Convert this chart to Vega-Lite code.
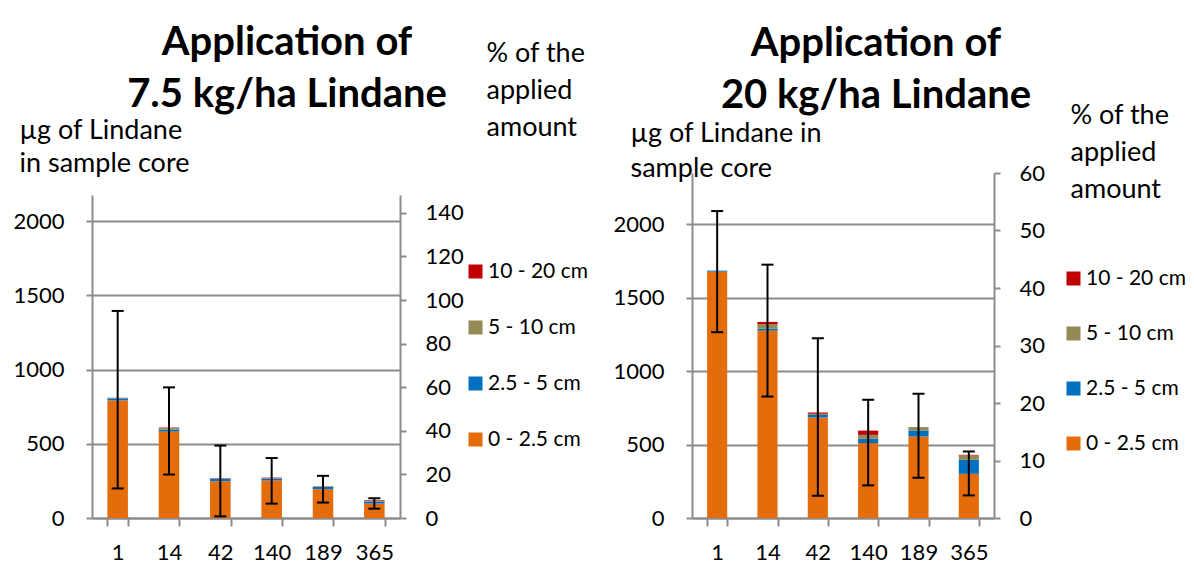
{
  "$schema": "https://vega.github.io/schema/vega-lite/v6.json",
  "autosize": {"type": "pad"},
  "padding": {"left": 12, "top": 23, "right": 0, "bottom": 0},
  "background": "white",
  "bounds": "flush",
  "spacing": 292,
  "datasets": {
    "leftBars": [
      {"day": 1, "depth": "0 - 2.5 cm", "ord": 1, "value": 792},
      {"day": 1, "depth": "2.5 - 5 cm", "ord": 2, "value": 14},
      {"day": 1, "depth": "5 - 10 cm", "ord": 3, "value": 3},
      {"day": 1, "depth": "10 - 20 cm", "ord": 4, "value": 1},
      {"day": 14, "depth": "0 - 2.5 cm", "ord": 1, "value": 582},
      {"day": 14, "depth": "2.5 - 5 cm", "ord": 2, "value": 13},
      {"day": 14, "depth": "5 - 10 cm", "ord": 3, "value": 13},
      {"day": 14, "depth": "10 - 20 cm", "ord": 4, "value": 2},
      {"day": 42, "depth": "0 - 2.5 cm", "ord": 1, "value": 248},
      {"day": 42, "depth": "2.5 - 5 cm", "ord": 2, "value": 16},
      {"day": 42, "depth": "5 - 10 cm", "ord": 3, "value": 3},
      {"day": 42, "depth": "10 - 20 cm", "ord": 4, "value": 3},
      {"day": 140, "depth": "0 - 2.5 cm", "ord": 1, "value": 253},
      {"day": 140, "depth": "2.5 - 5 cm", "ord": 2, "value": 12},
      {"day": 140, "depth": "5 - 10 cm", "ord": 3, "value": 3},
      {"day": 140, "depth": "10 - 20 cm", "ord": 4, "value": 4},
      {"day": 189, "depth": "0 - 2.5 cm", "ord": 1, "value": 194},
      {"day": 189, "depth": "2.5 - 5 cm", "ord": 2, "value": 15},
      {"day": 189, "depth": "5 - 10 cm", "ord": 3, "value": 4},
      {"day": 189, "depth": "10 - 20 cm", "ord": 4, "value": 1},
      {"day": 365, "depth": "0 - 2.5 cm", "ord": 1, "value": 97},
      {"day": 365, "depth": "2.5 - 5 cm", "ord": 2, "value": 14},
      {"day": 365, "depth": "5 - 10 cm", "ord": 3, "value": 3},
      {"day": 365, "depth": "10 - 20 cm", "ord": 4, "value": 5}
    ],
    "rightBars": [
      {"day": 1, "depth": "0 - 2.5 cm", "ord": 1, "value": 1677},
      {"day": 1, "depth": "2.5 - 5 cm", "ord": 2, "value": 7},
      {"day": 1, "depth": "5 - 10 cm", "ord": 3, "value": 1},
      {"day": 1, "depth": "10 - 20 cm", "ord": 4, "value": 0},
      {"day": 14, "depth": "0 - 2.5 cm", "ord": 1, "value": 1276},
      {"day": 14, "depth": "2.5 - 5 cm", "ord": 2, "value": 13},
      {"day": 14, "depth": "5 - 10 cm", "ord": 3, "value": 32},
      {"day": 14, "depth": "10 - 20 cm", "ord": 4, "value": 14},
      {"day": 42, "depth": "0 - 2.5 cm", "ord": 1, "value": 684},
      {"day": 42, "depth": "2.5 - 5 cm", "ord": 2, "value": 18},
      {"day": 42, "depth": "5 - 10 cm", "ord": 3, "value": 8},
      {"day": 42, "depth": "10 - 20 cm", "ord": 4, "value": 8},
      {"day": 140, "depth": "0 - 2.5 cm", "ord": 1, "value": 510},
      {"day": 140, "depth": "2.5 - 5 cm", "ord": 2, "value": 29},
      {"day": 140, "depth": "5 - 10 cm", "ord": 3, "value": 27},
      {"day": 140, "depth": "10 - 20 cm", "ord": 4, "value": 29},
      {"day": 189, "depth": "0 - 2.5 cm", "ord": 1, "value": 555},
      {"day": 189, "depth": "2.5 - 5 cm", "ord": 2, "value": 41},
      {"day": 189, "depth": "5 - 10 cm", "ord": 3, "value": 23},
      {"day": 189, "depth": "10 - 20 cm", "ord": 4, "value": 0},
      {"day": 365, "depth": "0 - 2.5 cm", "ord": 1, "value": 301},
      {"day": 365, "depth": "2.5 - 5 cm", "ord": 2, "value": 95},
      {"day": 365, "depth": "5 - 10 cm", "ord": 3, "value": 30},
      {"day": 365, "depth": "10 - 20 cm", "ord": 4, "value": 4}
    ],
    "leftErr": [
      {"day": 1, "lo": 199, "hi": 1395, "pct": 55},
      {"day": 14, "lo": 293, "hi": 880, "pct": 41},
      {"day": 42, "lo": 11, "hi": 488, "pct": 18},
      {"day": 140, "lo": 97, "hi": 404, "pct": 18},
      {"day": 189, "lo": 104, "hi": 284, "pct": 15},
      {"day": 365, "lo": 63, "hi": 133, "pct": 8}
    ],
    "rightErr": [
      {"day": 1, "lo": 1265, "hi": 2090, "pct": 43},
      {"day": 14, "lo": 827, "hi": 1725, "pct": 34},
      {"day": 42, "lo": 152, "hi": 1224, "pct": 18},
      {"day": 140, "lo": 222, "hi": 805, "pct": 15},
      {"day": 189, "lo": 274, "hi": 846, "pct": 16},
      {"day": 365, "lo": 154, "hi": 453, "pct": 11}
    ]
  },
  "hconcat": [
    {
      "width": 308,
      "height": 345,
      "title": {"text": ["Application of", "7.5 kg/ha Lindane"], "frame": "group", "anchor": "middle", "dx": 41, "dy": 76, "offset": 0, "lineHeight": 52},
      "layer": [
        {
          "layer": [
            {
              "data": {"name": "leftBars"},
              "mark": {"type": "bar"},
              "encoding": {
                "x": {"field": "day", "type": "ordinal", "sort": [1, 14, 42, 140, 189, 365], "scale": {"paddingInner": 0.6, "paddingOuter": 0.3},
                  "axis": {"title": null, "labelAngle": 0, "tickBand": "extent", "tickSize": 8, "labelPadding": 16, "grid": false}},
                "y": {"field": "value", "type": "quantitative", "stack": "zero", "scale": {"domain": [0, 2176], "range": [345, 22], "nice": false, "zero": true},
                  "axis": {"title": ["µg of Lindane", "in sample core"], "values": [0, 500, 1000, 1500, 2000], "format": "d", "grid": true, "tickSize": 6, "labelPadding": 22,
                    "titleAngle": 0, "titleAlign": "left", "titleBaseline": "alphabetic", "titleX": -73, "titleY": -35, "titleLineHeight": 33}},
                "color": {"field": "depth", "type": "nominal",
                  "scale": {"domain": ["10 - 20 cm", "5 - 10 cm", "2.5 - 5 cm", "0 - 2.5 cm"], "range": ["#C00000", "#948A54", "#0070C0", "#E46C0A"]},
                  "legend": {"orient": "none", "legendX": 373, "legendY": 88, "title": null, "rowPadding": 34}},
                "order": {"field": "ord", "type": "quantitative"}
              }
            },
            {
              "data": {"name": "leftErr"},
              "mark": {"type": "rule", "color": "black", "strokeWidth": 2},
              "encoding": {
                "x": {"field": "day", "type": "ordinal", "sort": [1, 14, 42, 140, 189, 365]},
                "y": {"field": "lo", "type": "quantitative"},
                "y2": {"field": "hi"}
              }
            },
            {
              "data": {"name": "leftErr"},
              "mark": {"type": "tick", "color": "black", "thickness": 2, "size": 12, "opacity": 1, "orient": "horizontal"},
              "encoding": {
                "x": {"field": "day", "type": "ordinal", "sort": [1, 14, 42, 140, 189, 365]},
                "y": {"field": "lo", "type": "quantitative"}
              }
            },
            {
              "data": {"name": "leftErr"},
              "mark": {"type": "tick", "color": "black", "thickness": 2, "size": 12, "opacity": 1, "orient": "horizontal"},
              "encoding": {
                "x": {"field": "day", "type": "ordinal", "sort": [1, 14, 42, 140, 189, 365]},
                "y": {"field": "hi", "type": "quantitative"}
              }
            }
          ]
        },
        {
          "data": {"name": "leftErr"},
          "mark": {"type": "point", "opacity": 0},
          "encoding": {
            "x": {"field": "day", "type": "ordinal", "sort": [1, 14, 42, 140, 189, 365]},
            "y": {"field": "pct", "type": "quantitative", "scale": {"domain": [0, 148.2], "range": [345, 22], "nice": false},
              "axis": {"orient": "right", "title": ["% of the", "applied", "amount"], "values": [0, 20, 40, 60, 80, 100, 120, 140], "grid": false, "tickSize": 6, "labelPadding": 19,
                "titleAngle": 0, "titleAlign": "left", "titleBaseline": "alphabetic", "titleX": 86, "titleY": -112, "titleLineHeight": 37}}
          }
        }
      ],
      "resolve": {"scale": {"y": "independent"}}
    },
    {
      "width": 302,
      "height": 345,
      "title": {"text": ["Application of", "20 kg/ha Lindane"], "frame": "group", "anchor": "middle", "dx": 33, "dy": 15, "offset": 0, "lineHeight": 52},
      "layer": [
        {
          "layer": [
            {
              "data": {"name": "rightBars"},
              "mark": {"type": "bar"},
              "encoding": {
                "x": {"field": "day", "type": "ordinal", "sort": [1, 14, 42, 140, 189, 365], "scale": {"paddingInner": 0.6, "paddingOuter": 0.3},
                  "axis": {"title": null, "labelAngle": 0, "tickBand": "extent", "tickSize": 8, "labelPadding": 16, "grid": false}},
                "y": {"field": "value", "type": "quantitative", "stack": "zero", "scale": {"domain": [0, 2349], "nice": false, "zero": true},
                  "axis": {"title": ["µg of Lindane in", "sample core"], "values": [0, 500, 1000, 1500, 2000], "format": "d", "grid": true, "tickSize": 6, "labelPadding": 22,
                    "titleAngle": 0, "titleAlign": "left", "titleBaseline": "alphabetic", "titleX": -62, "titleY": -32, "titleLineHeight": 35}},
                "color": {"field": "depth", "type": "nominal",
                  "scale": {"domain": ["10 - 20 cm", "5 - 10 cm", "2.5 - 5 cm", "0 - 2.5 cm"], "range": ["#C00000", "#948A54", "#0070C0", "#E46C0A"]},
                  "legend": {"orient": "none", "legendX": 371, "legendY": 95, "title": null, "rowPadding": 33}},
                "order": {"field": "ord", "type": "quantitative"}
              }
            },
            {
              "data": {"name": "rightErr"},
              "mark": {"type": "rule", "color": "black", "strokeWidth": 2},
              "encoding": {
                "x": {"field": "day", "type": "ordinal", "sort": [1, 14, 42, 140, 189, 365]},
                "y": {"field": "lo", "type": "quantitative"},
                "y2": {"field": "hi"}
              }
            },
            {
              "data": {"name": "rightErr"},
              "mark": {"type": "tick", "color": "black", "thickness": 2, "size": 12, "opacity": 1, "orient": "horizontal"},
              "encoding": {
                "x": {"field": "day", "type": "ordinal", "sort": [1, 14, 42, 140, 189, 365]},
                "y": {"field": "lo", "type": "quantitative"}
              }
            },
            {
              "data": {"name": "rightErr"},
              "mark": {"type": "tick", "color": "black", "thickness": 2, "size": 12, "opacity": 1, "orient": "horizontal"},
              "encoding": {
                "x": {"field": "day", "type": "ordinal", "sort": [1, 14, 42, 140, 189, 365]},
                "y": {"field": "hi", "type": "quantitative"}
              }
            }
          ]
        },
        {
          "data": {"name": "rightErr"},
          "mark": {"type": "point", "opacity": 0},
          "encoding": {
            "x": {"field": "day", "type": "ordinal", "sort": [1, 14, 42, 140, 189, 365]},
            "y": {"field": "pct", "type": "quantitative", "scale": {"domain": [0, 60], "nice": false},
              "axis": {"orient": "right", "title": ["% of the", "applied", "amount"], "values": [0, 10, 20, 30, 40, 50, 60], "grid": false, "tickSize": 6, "labelPadding": 19,
                "titleAngle": 0, "titleAlign": "left", "titleBaseline": "alphabetic", "titleX": 76, "titleY": -50, "titleLineHeight": 37}}
          }
        }
      ],
      "resolve": {"scale": {"y": "independent"}}
    }
  ],
  "resolve": {"scale": {"color": "independent"}, "legend": {"color": "independent"}},
  "config": {
    "font": "Lato",
    "view": {"stroke": null},
    "axis": {"labelFont": "Lato", "labelFontSize": 22, "labelColor": "#000000", "titleFont": "Lato", "titleFontSize": 27, "titleFontWeight": "normal", "titleColor": "#000000",
      "domainColor": "#8c8c8c", "domainWidth": 2, "tickColor": "#8c8c8c", "tickWidth": 2, "gridColor": "#8c8c8c", "gridWidth": 2},
    "legend": {"labelFont": "Lato", "labelFontSize": 21, "labelColor": "#000000", "symbolType": "square", "symbolSize": 196, "symbolStrokeWidth": 0, "labelOffset": 2},
    "title": {"font": "Lato", "fontSize": 40, "fontWeight": "bold", "color": "#000000"}
  }
}
